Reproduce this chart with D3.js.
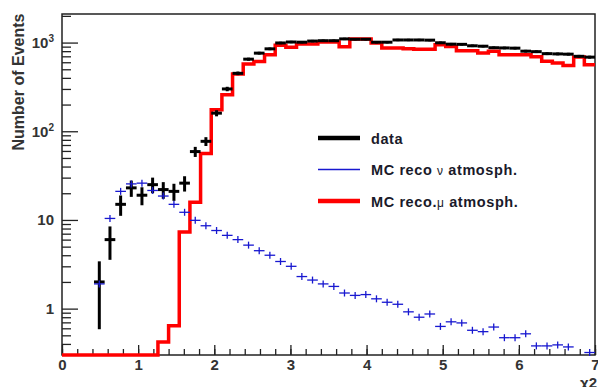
<!DOCTYPE html>
<html>
<head>
<meta charset="utf-8">
<script src="https://cdn.jsdelivr.net/npm/d3@7"></script>
<style>
	body { margin: 0; background: #fff; }
	svg { display: block; font-family: 'Liberation Sans', Arial, sans-serif; }
</style>
</head>
<body>
<script>
// histogram binning: 50 bins between 0 and 7
const nBins = 50
const xDomain = [0, 7]

// measured events per bin (null = empty bin)
const dataCounts = [
	null, null, null, 2, 6, 15, 23, 19, 25, 22,
	21, 26, 59, 77, 160, 300, 450, 650, 760, 850,
	990, 1015, 1010, 1040, 1050, 1050, 1100, 1090, 1090, 1010,
	1010, 1070, 1070, 1070, 1065, 995, 960, 955, 920, 910,
	875, 870, 865, 800, 790, 750, 745, 740, 700, 685
]

// MC reco nu atmosph.
const mcNu = [
	null, null, null, 1.9, 10.4, 21, 25.5, 26, 21.5, 18.6,
	15, 12.2, 9.9, 8.6, 7.6, 6.7, 6.0, 5.2, 4.5, 4.0,
	3.4, 3.0, 2.3, 2.1, 1.9, 1.78, 1.5, 1.41, 1.44, 1.29,
	1.18, 1.12, 0.92, 0.8, 0.87, 0.63, 0.71, 0.69, 0.57, 0.55,
	0.62, 0.47, 0.47, 0.52, 0.38, 0.38, 0.39, 0.37, null, 0.32
]

// MC reco mu atmosph.
const mcMu = [
	0, 0, 0, 0, 0, 0, 0, 0, 0, 0.42,
	0.64, 7.3, 15.8, 56, 175, 258, 443, 575, 613, 731,
	930, 885, 964, 964, 1016, 1016, 900, 1100, 1100, 990,
	870, 870, 850, 842, 842, 947, 906, 810, 810, 763,
	796, 730, 730, 730, 690, 614, 590, 553, 688, 563
]

const xTicks = [0, 1, 2, 3, 4, 5, 6, 7]
const yTicks = [1, 10, 100, 1000]
const yMinorTicks = [0.4, 0.5, 0.6, 0.7, 0.8, 0.9, 2, 3, 4, 5, 6, 7, 8, 9,
	20, 30, 40, 50, 60, 70, 80, 90, 200, 300, 400, 500, 600, 700, 800, 900, 2000]
const yDomain = [0.3, 2100]

const legendLabels = [['data'], ['MC reco ', 'ν', ' atmosph.'], ['MC reco.', 'μ', ' atmosph.']]
const colors = { data: '#000', nu: '#1818d0', mu: '#ff0000' }

const margin = { top: 14, bottom: 32, left: 62, right: 3 }
const width = 598 - margin.left - margin.right
const height = 387 - margin.top - margin.bottom

const svg = d3
	.select('body')
	.append('svg')
	.attr('width', width + margin.left + margin.right)
	.attr('height', height + margin.top + margin.bottom)

const g = svg.append('g').attr('transform', `translate(${margin.left},${margin.top})`)

// scales
const xscale = d3.scaleLinear().domain(xDomain).range([0, width])
const yscale = d3.scaleLog().domain(yDomain).range([height, 0])
const binWidth = (xDomain[1] - xDomain[0]) / nBins
const bins = d3.range(nBins).map(i => ({
	lo: xDomain[0] + i * binWidth,
	hi: xDomain[0] + (i + 1) * binWidth,
	mid: xDomain[0] + (i + 0.5) * binWidth,
	data: dataCounts[i],
	nu: mcNu[i],
	mu: mcMu[i]
}))
const yc = v => yscale(Math.max(v, yDomain[0]))

// frame
g.append('rect')
	.attr('width', width)
	.attr('height', height)
	.attr('fill', 'none')
	.attr('stroke', '#222')
	.attr('stroke-width', 1.5)

// x axis, ticks pointing up into the frame
const xaxis = d3.axisBottom(xscale).tickValues(xTicks).tickSize(-10).tickPadding(4).tickFormat(d3.format('d'))
const xminor = d3.axisBottom(xscale).tickValues(d3.range(0, 7.01, 0.2)).tickSize(-6).tickFormat('')
g.append('g').attr('class', 'x minor').attr('transform', `translate(0,${height})`).call(xminor)
const g_xaxis = g.append('g').attr('class', 'x axis').attr('transform', `translate(0,${height})`).call(xaxis)

// y axis, ticks pointing right into the frame
const yaxis = d3.axisLeft(yscale).tickValues(yTicks).tickSize(-16).tickPadding(8)
const yminor = d3.axisLeft(yscale).tickValues(yMinorTicks).tickSize(-9).tickFormat('')
g.append('g').attr('class', 'y minor').call(yminor)
const g_yaxis = g.append('g').attr('class', 'y axis').call(yaxis)

g.selectAll('.domain').remove()
g.selectAll('.tick line').attr('stroke', '#222').attr('stroke-width', 1.3)
g.selectAll('.axis text')
	.attr('font-family', "'Liberation Sans', Arial, sans-serif")
	.attr('font-size', 15)
	.attr('font-weight', 'bold')
	.attr('fill', '#333')

// 10^n labels with superscripts
g_yaxis.selectAll('.tick text').each(function (d) {
	const t = d3.select(this).text('')
	const exp = Math.round(Math.log10(d))
	if (exp === 0) {
		t.text('1')
	} else if (exp === 1) {
		t.text('10')
	} else {
		t.append('tspan').text('10')
		t.append('tspan').attr('dy', -6).attr('font-size', 10).text(exp)
	}
})

// MC mu histogram (step outline)
const muPoints = bins.map(b => [b.lo, b.mu]).concat([[xDomain[1], mcMu[nBins - 1]]])
const muLine = d3
	.line()
	.x(d => xscale(d[0]))
	.y(d => yc(d[1]))
	.curve(d3.curveStepAfter)
g.append('path')
	.datum(muPoints)
	.attr('d', muLine)
	.attr('fill', 'none')
	.attr('stroke', colors.mu)
	.attr('stroke-width', 3.5)

// data crosses with poisson errors
const dataBins = bins.filter(b => b.data !== null)
const dataG = g.append('g').attr('stroke', colors.data).attr('stroke-width', 3)
dataG.selectAll('.hbar')
	.data(dataBins)
	.join('line')
	.attr('class', 'hbar')
	.attr('x1', d => xscale(d.lo))
	.attr('x2', d => xscale(d.hi))
	.attr('y1', d => yc(d.data))
	.attr('y2', d => yc(d.data))
dataG.selectAll('.vbar')
	.data(dataBins)
	.join('line')
	.attr('class', 'vbar')
	.attr('x1', d => xscale(d.mid))
	.attr('x2', d => xscale(d.mid))
	.attr('y1', d => yc(d.data - Math.sqrt(d.data)))
	.attr('y2', d => yc(d.data + Math.sqrt(d.data)))

// MC nu crosses
const nuBins = bins.filter(b => b.nu !== null)
const nuG = g.append('g').attr('stroke', colors.nu).attr('stroke-width', 1.3)
nuG.selectAll('.hbar')
	.data(nuBins)
	.join('line')
	.attr('class', 'hbar')
	.attr('x1', d => xscale(d.lo))
	.attr('x2', d => xscale(d.hi))
	.attr('y1', d => yc(d.nu))
	.attr('y2', d => yc(d.nu))
nuG.selectAll('.vbar')
	.data(nuBins)
	.join('line')
	.attr('class', 'vbar')
	.attr('x1', d => xscale(d.mid))
	.attr('x2', d => xscale(d.mid))
	.attr('y1', d => yc(d.nu) - 3.5)
	.attr('y2', d => yc(d.nu) + 3.5)

// legend
const legend = svg.append('g').attr('transform', 'translate(318,138)')
const legendStyle = [
	{ color: colors.data, w: 4.5 },
	{ color: colors.nu, w: 1.5 },
	{ color: colors.mu, w: 4.5 }
]
legendLabels.forEach((parts, i) => {
	const row = legend.append('g').attr('transform', `translate(0,${i * 31.5})`)
	row.append('line')
		.attr('x1', 0)
		.attr('x2', 42)
		.attr('stroke', legendStyle[i].color)
		.attr('stroke-width', legendStyle[i].w)
	const t = row.append('text')
		.attr('x', 53)
		.attr('y', 5.5)
		.attr('font-size', 14.5)
		.attr('letter-spacing', 0.6)
		.attr('font-weight', 'bold')
		.attr('fill', '#1a1a2a')
	parts.forEach((p, j) => {
		const s = t.append('tspan').text(p)
		if (j === 1) s.attr('font-weight', 'normal').attr('font-size', 12)
	})
})

// axis titles
svg.append('text')
	.attr('transform', 'translate(24,82) rotate(-90)')
	.attr('text-anchor', 'middle')
	.attr('font-size', 16)
	.attr('font-weight', 'bold')
	.attr('fill', '#333')
	.text('Number of Events')

svg.append('text')
	.attr('x', 597)
	.attr('y', 388)
	.attr('text-anchor', 'end')
	.attr('font-size', 15)
	.attr('font-weight', 'bold')
	.attr('fill', '#333')
	.text('χ2')
</script>
</body>
</html>
